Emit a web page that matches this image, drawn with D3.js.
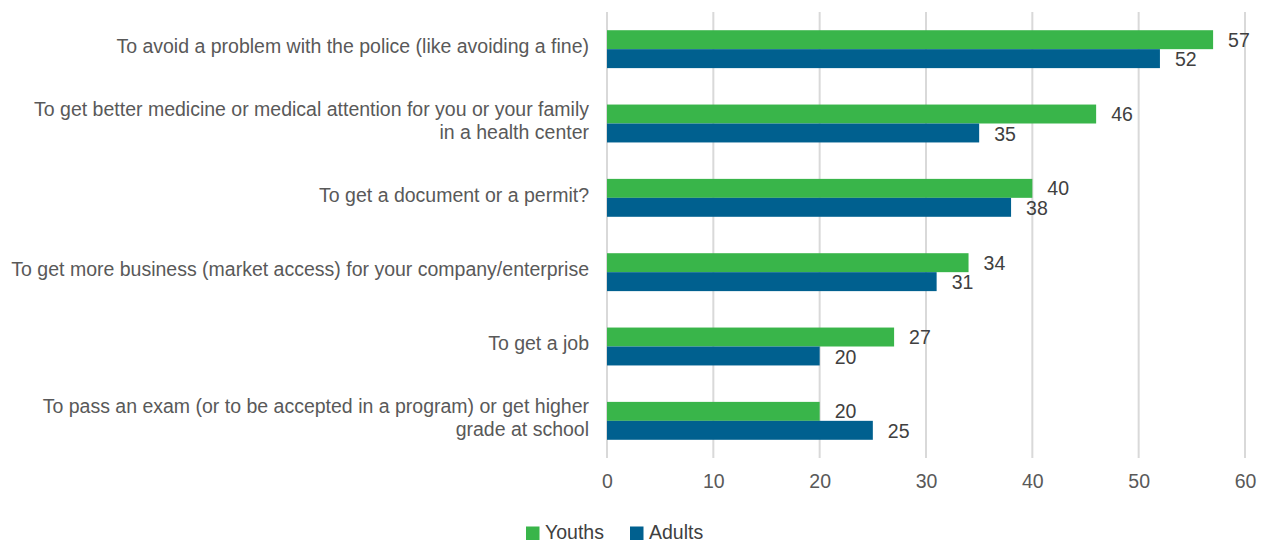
<!DOCTYPE html>
<html>
<head>
<meta charset="utf-8">
<script src="https://cdn.jsdelivr.net/npm/d3@7"></script>
<style>
  html, body { margin: 0; padding: 0; background: #ffffff; }
  svg { display: block; font-family: "Liberation Sans", Arial, sans-serif; }
</style>
</head>
<body>
<svg id="chart" width="1266" height="543"></svg>
<script>
// Reasons for paying a bribe, share of respondents (%)
const categories = [
  ["To avoid a problem with the police (like avoiding a fine)"],
  ["To get better medicine or medical attention for you or your family", "in a health center"],
  ["To get a document or a permit?"],
  ["To get more business (market access) for your company/enterprise"],
  ["To get a job"],
  ["To pass an exam (or to be accepted in a program) or get higher", "grade at school"]
];
const youths = [57, 46, 40, 34, 27, 20];
const adults = [52, 35, 38, 31, 20, 25];
const seriesNames = ["Youths", "Adults"];
const seriesColors = ["#39b54a", "#00608f"];
const xTicks = [0, 10, 20, 30, 40, 50, 60];

const svg = d3.select("#chart");
const margin = { left: 607, right: 21, top: 12, bottom: 85 };
const W = 1266, H = 543;
const FS = 19.5;

const x = d3.scaleLinear().domain([0, 60]).range([margin.left, W - margin.right]);
const y = d3.scaleBand().domain(d3.range(categories.length))
  .range([margin.top, H - margin.bottom]).paddingInner(0.49).paddingOuter(0.245);
const ySub = d3.scaleBand().domain([0, 1]).range([0, y.bandwidth()]);

// vertical gridlines
svg.append("g").selectAll("line").data(xTicks).join("line")
  .attr("x1", d => x(d)).attr("x2", d => x(d))
  .attr("y1", margin.top).attr("y2", H - margin.bottom)
  .attr("stroke", "#d9d9d9").attr("stroke-width", 2);

// x axis tick labels
const xAxis = d3.axisBottom(x).tickValues(xTicks).tickSize(0).tickPadding(0);
const gx = svg.append("g").attr("transform", `translate(0,${H - margin.bottom + 15})`).call(xAxis);
gx.select(".domain").remove();
gx.selectAll("text").attr("font-size", FS).attr("fill", "#595959")
  .attr("font-family", "'Liberation Sans', Arial, sans-serif").attr("dy", "0.75em");

// bars with value labels
const series = [youths, adults];
series.forEach((vals, s) => {
  const g = svg.append("g");
  g.selectAll("rect").data(vals).join("rect")
    .attr("x", x(0))
    .attr("y", (d, i) => y(i) + ySub(s))
    .attr("width", d => x(d) - x(0))
    .attr("height", ySub.bandwidth())
    .attr("fill", seriesColors[s]);
  g.selectAll("text").data(vals).join("text")
    .attr("x", d => x(d) + 15)
    .attr("y", (d, i) => y(i) + ySub(s) + ySub.bandwidth() / 2 + (s === 1 ? 1 : 0))
    .attr("dy", "0.35em")
    .attr("font-size", FS).attr("fill", "#404040")
    .text(d => d);
});

// category labels
const cg = svg.append("g");
categories.forEach((lines, i) => {
  const cy = y(i) + y.bandwidth() / 2 - 3;
  const lh = 23;
  const t = cg.append("text").attr("text-anchor", "end")
    .attr("font-size", FS).attr("fill", "#595959");
  lines.forEach((ln, k) => {
    t.append("tspan").attr("x", 589)
      .attr("y", cy + (k - (lines.length - 1) / 2) * lh)
      .attr("dy", "0.35em").text(ln);
  });
});

// legend
const legend = svg.append("g").attr("transform", "translate(526,532)");
const legendX = [0, 104];
seriesNames.forEach((name, s) => {
  const lg = legend.append("g").attr("transform", `translate(${legendX[s]},0)`);
  lg.append("rect").attr("x", 0).attr("y", -5.5).attr("width", 13.5).attr("height", 13.5)
    .attr("fill", seriesColors[s]);
  lg.append("text").attr("x", 19).attr("y", 0).attr("dy", "0.35em")
    .attr("font-size", FS).attr("fill", "#404040").text(name);
});
</script>
</body>
</html>
